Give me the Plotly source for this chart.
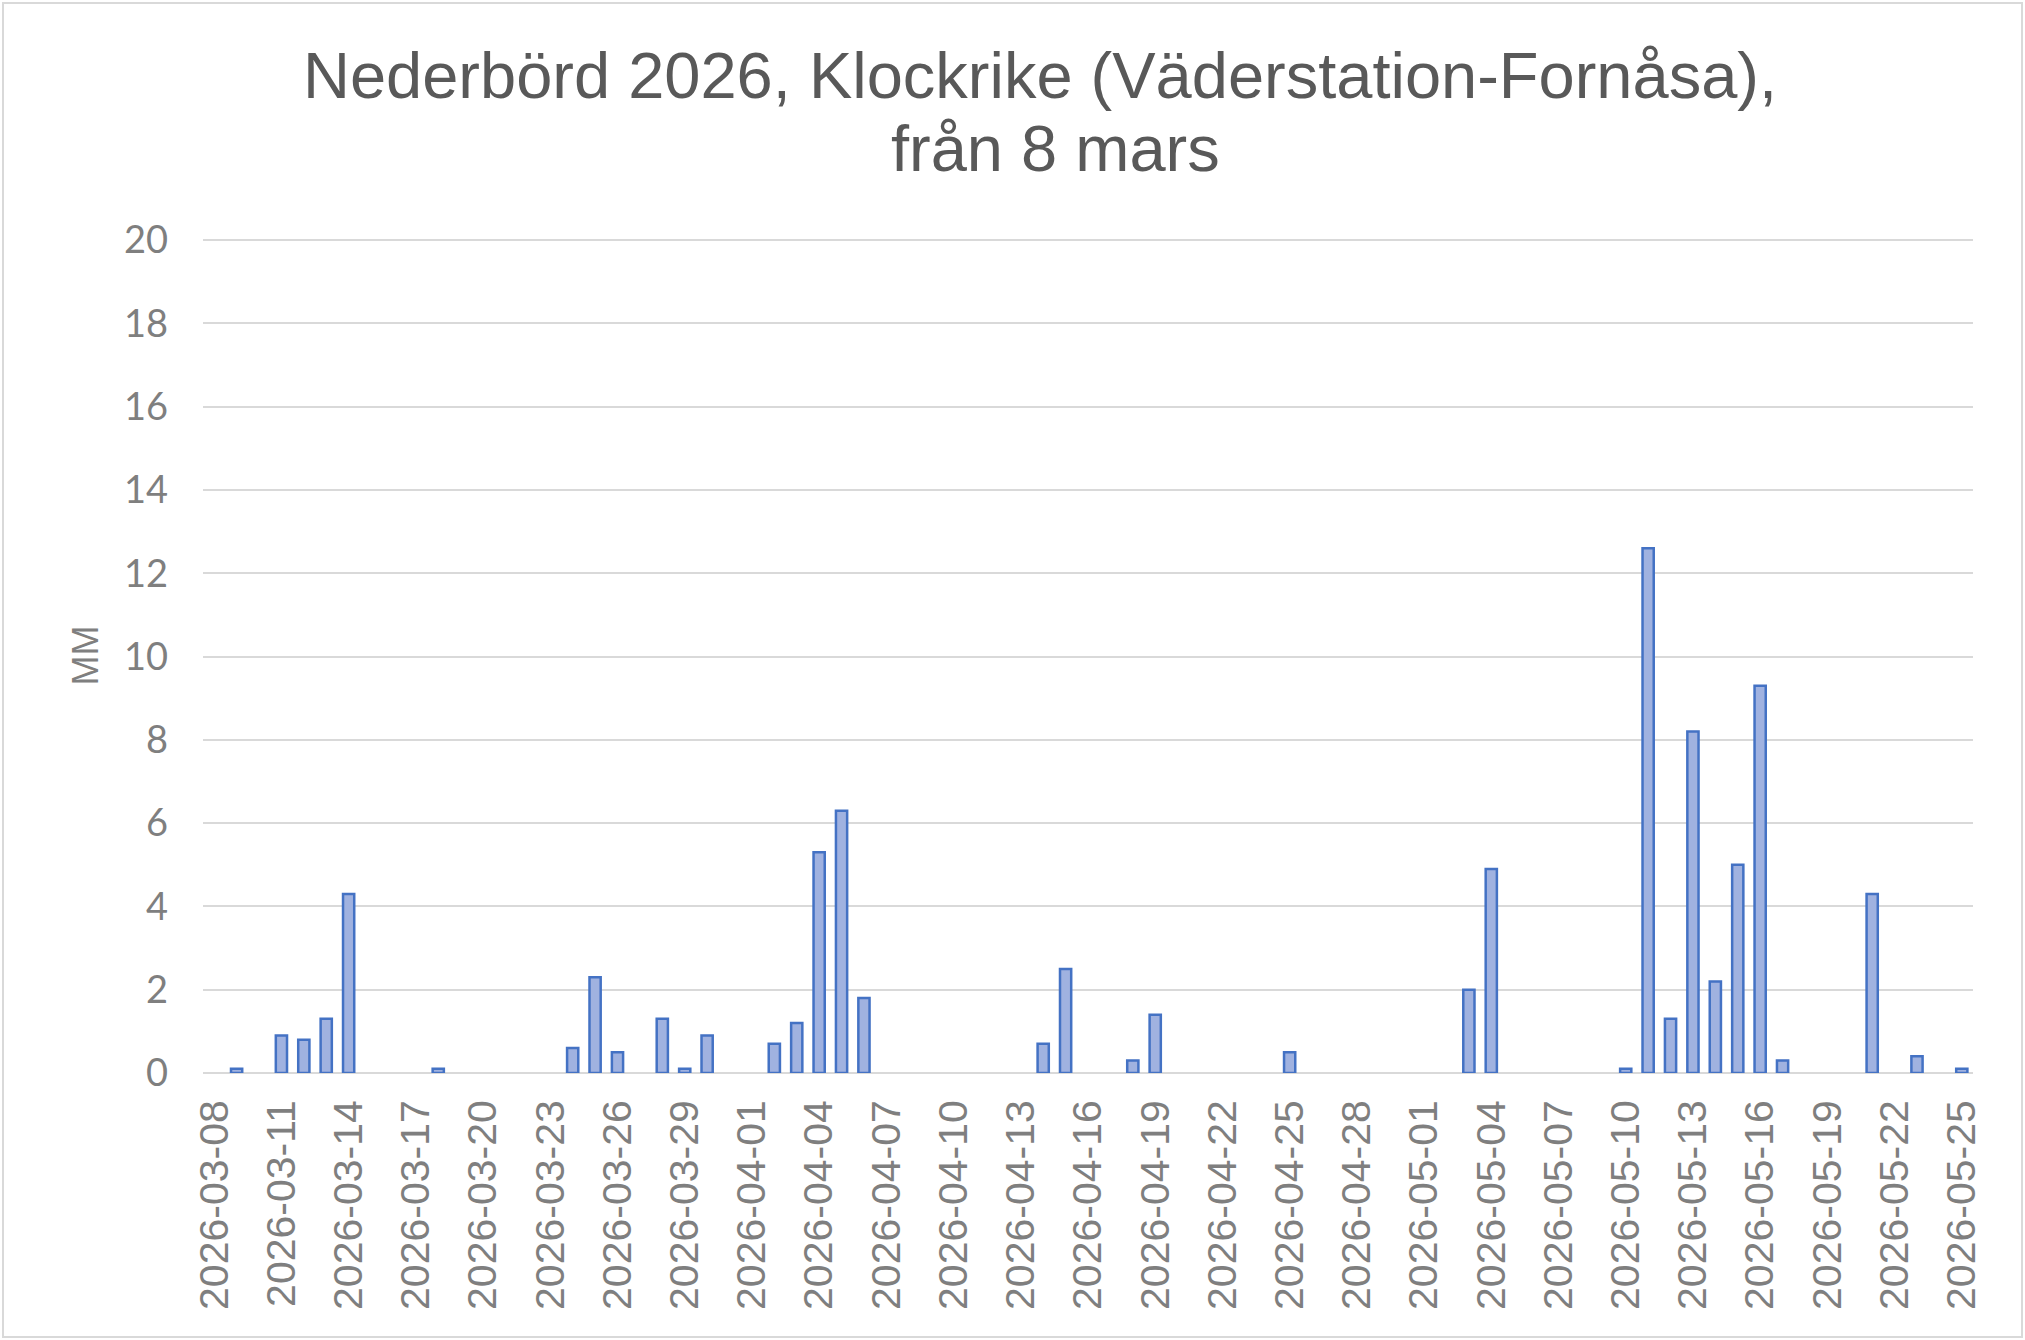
import pandas as pd
import plotly.graph_objects as go

# daily precipitation, 2026-03-08 .. 2026-05-25 (mm)
DATES = [d.strftime("%Y-%m-%d") for d in pd.date_range("2026-03-08", "2026-05-25", freq="D")]
PRECIP_MM = [
    0.0, 0.1, 0.0, 0.9, 0.8, 1.3, 4.3,   # 03-08 .. 03-14
    0.0, 0.0, 0.0, 0.1, 0.0, 0.0, 0.0,   # 03-15 .. 03-21
    0.0, 0.0, 0.6, 2.3, 0.5, 0.0, 1.3,   # 03-22 .. 03-28
    0.1, 0.9, 0.0, 0.0, 0.7, 1.2, 5.3,   # 03-29 .. 04-04
    6.3, 1.8, 0.0, 0.0, 0.0, 0.0, 0.0,   # 04-05 .. 04-11
    0.0, 0.0, 0.7, 2.5, 0.0, 0.0, 0.3,   # 04-12 .. 04-18
    1.4, 0.0, 0.0, 0.0, 0.0, 0.0, 0.5,   # 04-19 .. 04-25
    0.0, 0.0, 0.0, 0.0, 0.0, 0.0, 0.0,   # 04-26 .. 05-02
    2.0, 4.9, 0.0, 0.0, 0.0, 0.0, 0.0,   # 05-03 .. 05-09
    0.1, 12.6, 1.3, 8.2, 2.2, 5.0, 9.3,  # 05-10 .. 05-16
    0.3, 0.0, 0.0, 0.0, 4.3, 0.0, 0.4,   # 05-17 .. 05-23
    0.0, 0.1,                            # 05-24 .. 05-25
]
TICK_DATES = DATES[::3]
Y_TICKS = list(range(0, 21, 2))

TITLE_1 = "Nederbörd 2026, Klockrike (Väderstation-Fornåsa),"
TITLE_2 = "från 8 mars"

W, H = 2025, 1340
# top margin leaves 2px above the 20-gridline so plotly doesn't drop it at the edge
L, R, T, B = 203, 52, 238, 267
PW, PH = W - L - R, H - T - B

TITLE_COLOR = "#595959"
AXIS_TEXT = "#7f7f7f"
GRID = "#d9d9d9"
BAR_FILL = "#a0b2e0"
BAR_LINE = "#4472c4"

# dry days get no bar at all (not even the outline)
bar_y = [v if v > 0 else None for v in PRECIP_MM]

fig = go.Figure()
fig.add_trace(go.Bar(
    x=DATES, y=bar_y,
    marker=dict(color=BAR_FILL, line=dict(color=BAR_LINE, width=2.5)),
    hovertemplate="%{x}<br>%{y} mm<extra></extra>",
))

fig.update_layout(
    width=W, height=H,
    margin=dict(l=L, r=R, t=T, b=B),
    paper_bgcolor="white", plot_bgcolor="white",
    showlegend=False,
    bargap=0.5,
    title=dict(
        text=TITLE_1,
        font=dict(family="Liberation Sans, Arial", size=65, color=TITLE_COLOR),
        x=1040 / W, xanchor="center",
        y=1 - 75 / H, yanchor="middle",
    ),
    annotations=[dict(
        text=TITLE_2, showarrow=False,
        font=dict(family="Liberation Sans, Arial", size=65, color=TITLE_COLOR),
        xref="paper", yref="paper",
        x=(1055 - L) / PW, xanchor="center",
        y=(H - B - 148) / PH, yanchor="middle",
    )],
    shapes=[dict(
        type="rect", xref="paper", yref="paper",
        x0=(3 - L) / PW, x1=(W - 3 - L) / PW,
        y0=(H - B - (H - 3)) / PH, y1=(H - B - 3) / PH,
        line=dict(color=GRID, width=2), fillcolor="rgba(0,0,0,0)", layer="below",
    )],
)

fig.update_xaxes(
    type="category",
    tickmode="array", tickvals=TICK_DATES, ticktext=TICK_DATES,
    tickangle=-90,
    tickfont=dict(family="Liberation Sans, Arial", size=41, color=AXIS_TEXT),
    ticklabelstandoff=18,
    showgrid=False, showline=False, ticks="",
)
fig.update_yaxes(
    range=[0, 20.05],
    tickmode="array", tickvals=Y_TICKS,
    tickfont=dict(family="Lato, Noto Sans", size=38, color=AXIS_TEXT),
    ticklabelstandoff=34,
    showgrid=True, gridcolor=GRID, gridwidth=2,
    zeroline=True, zerolinecolor=GRID, zerolinewidth=2,
    showline=False, ticks="",
    title=dict(text="MM", font=dict(family="Liberation Sans, Arial", size=36, color=AXIS_TEXT),
               standoff=14),
)

# page body has a default 8px margin; drop it so the figure sits at the window corner
fig.write_html(
    "out.html",
    config={"displayModeBar": False},
    post_script="document.body.style.margin = '0';",
)
